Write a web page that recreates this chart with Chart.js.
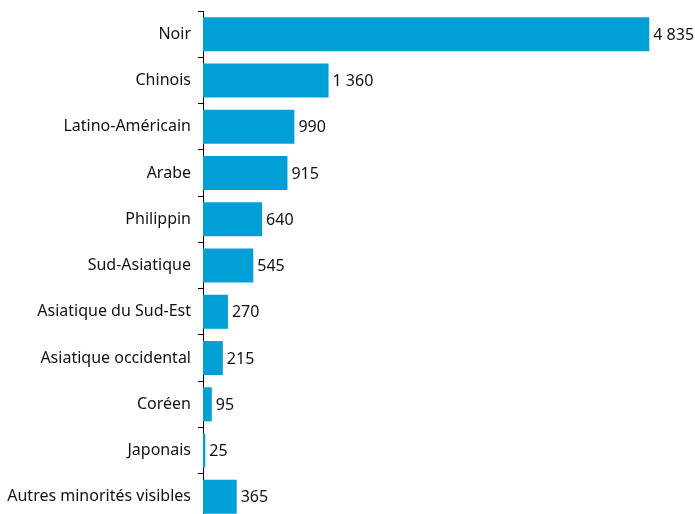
<!DOCTYPE html>
<html>
<head>
<meta charset="utf-8">
<script src="https://cdn.jsdelivr.net/npm/chart.js@4"></script>
<style>
  html, body { margin: 0; padding: 0; background: #fff; overflow: hidden; }
</style>
</head>
<body>
<canvas id="chart" width="695" height="520"></canvas>
<script>
// Catégories et valeurs
const categories = ['Noir', 'Chinois', 'Latino-Américain', 'Arabe', 'Philippin', 'Sud-Asiatique',
  'Asiatique du Sud-Est', 'Asiatique occidental', 'Coréen', 'Japonais', 'Autres minorités visibles'];
const values = [4835, 1360, 990, 915, 640, 545, 270, 215, 95, 25, 365];

const fmt = v => String(v).replace(/\B(?=(\d{3})+(?!\d))/g, ' ');

// Étiquettes de valeur au bout des barres
const valueLabels = {
  id: 'valueLabels',
  afterDatasetsDraw(chart) {
    const ctx = chart.ctx;
    const meta = chart.getDatasetMeta(0);
    ctx.save();
    ctx.font = '16px "Noto Sans"';
    ctx.fillStyle = '#111';
    ctx.textBaseline = 'middle';
    meta.data.forEach((bar, i) => {
      ctx.fillText(fmt(values[i]), bar.x + 4, bar.y + 1);
    });
    ctx.restore();
  }
};

new Chart(document.getElementById('chart'), {
  type: 'bar',
  data: {
    labels: categories,
    datasets: [{
      data: values,
      backgroundColor: '#00a0d6',
      categoryPercentage: 1,
      barPercentage: 0.735
    }]
  },
  options: {
    indexAxis: 'y',
    responsive: false,
    animation: false,
    layout: { padding: { top: 11, right: 12, bottom: 0, left: 0 } },
    plugins: { legend: { display: false }, tooltip: { enabled: false } },
    scales: {
      x: { display: false, min: 0, max: 5200 },
      y: {
        afterFit(scale) {
          scale.width = 203;
          scale.paddingTop = 0;
          scale.paddingBottom = 0;
        },
        grid: {
          offset: true,
          drawOnChartArea: false,
          drawTicks: true,
          tickLength: 5,
          color: '#000'
        },
        border: { display: true, color: '#000', width: 1 },
        ticks: {
          color: '#111',
          padding: 7,
          font: { family: 'Noto Sans', size: 16 }
        }
      }
    }
  },
  plugins: [valueLabels]
});
</script>
</body>
</html>
